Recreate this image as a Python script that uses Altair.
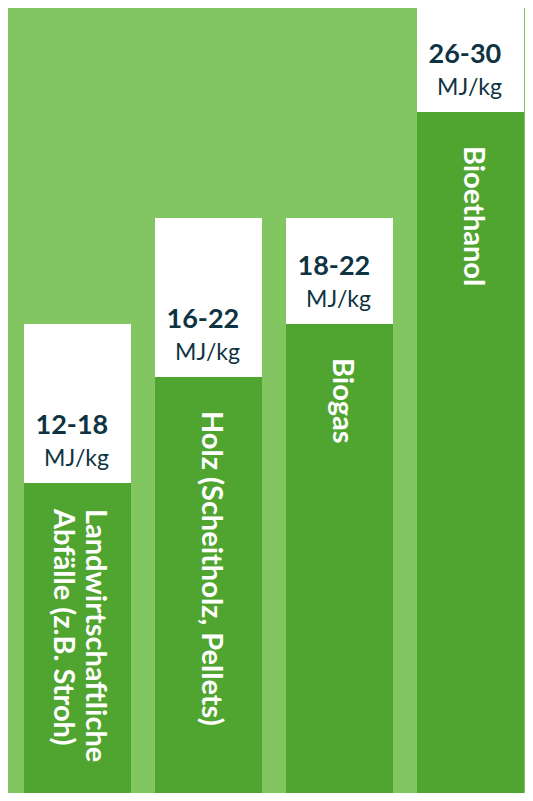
import altair as alt
import pandas as pd

# Data
categories = [
    "Landwirtschaftliche\nAbfälle (z.B. Stroh)",
    "Holz (Scheitholz, Pellets)",
    "Biogas",
    "Bioethanol",
]
lower = [12, 16, 18, 26]
upper = [18, 22, 22, 30]
unit = "MJ/kg"

df = pd.DataFrame({
    "cat": categories,
    "lo": lower,
    "hi": upper,
})
df["range"] = [f"{a}-{b}" for a, b in zip(lower, upper)]
df["unit"] = unit
df["nlines"] = [c.count("\n") + 1 for c in categories]

BG = "#82C661"
DARK_GREEN = "#50A430"
TEXT = "#0E3342"

x = alt.X(
    "cat:N",
    sort=categories,
    axis=None,
    scale=alt.Scale(paddingInner=0.1832, paddingOuter=0.0649, align=0.941),
)
yscale = alt.Scale(domain=[0.302, 29.92], nice=False, zero=False)

base = alt.Chart(df)

box = base.mark_bar(color="white", clip=True).encode(
    x=x,
    y=alt.Y("hi:Q", scale=yscale, axis=None),
    y2="lo:Q",
)

green = base.mark_bar(color=DARK_GREEN, clip=True).encode(
    x=x,
    y=alt.Y("lo:Q", scale=yscale, axis=None),
    y2=alt.datum(0),
)

range_txt = base.mark_text(
    font="Lato", fontSize=27, fontWeight="bold", color=TEXT,
    align="left", baseline="alphabetic", dx=-42, dy=-49,
).encode(
    x=x,
    y=alt.Y("lo:Q", scale=yscale, axis=None),
    text="range:N",
)

unit_txt = base.mark_text(
    font="Lato", fontSize=23, color=TEXT,
    align="center", baseline="alphabetic", dx=-1, dy=-17,
).encode(
    x=x,
    y=alt.Y("lo:Q", scale=yscale, axis=None),
    text="unit:N",
)

label_single = base.transform_filter("datum.nlines == 1").mark_text(
    font="Lato", fontSize=29, fontWeight="bold", color="white",
    align="left", baseline="middle", angle=90, dx=34, dy=-3,
).encode(
    x=x,
    y=alt.Y("lo:Q", scale=yscale, axis=None),
    text="cat:N",
)

label_multi = base.transform_filter("datum.nlines > 1").mark_text(
    font="Lato", fontSize=29, fontWeight="bold", color="white",
    align="left", baseline="middle", angle=90, dx=26, dy=-17,
    lineBreak="\n", lineHeight=32,
).encode(
    x=x,
    y=alt.Y("lo:Q", scale=yscale, axis=None),
    text="cat:N",
)

chart = (
    alt.layer(box, green, range_txt, unit_txt, label_single, label_multi)
    .properties(width=517, height=785, background=BG, padding=0,
                autosize=alt.AutoSizeParams(type="none"))
    .configure_view(strokeWidth=0)
)

chart.save("out.html", embed_options={"renderer": "svg", "actions": False})
